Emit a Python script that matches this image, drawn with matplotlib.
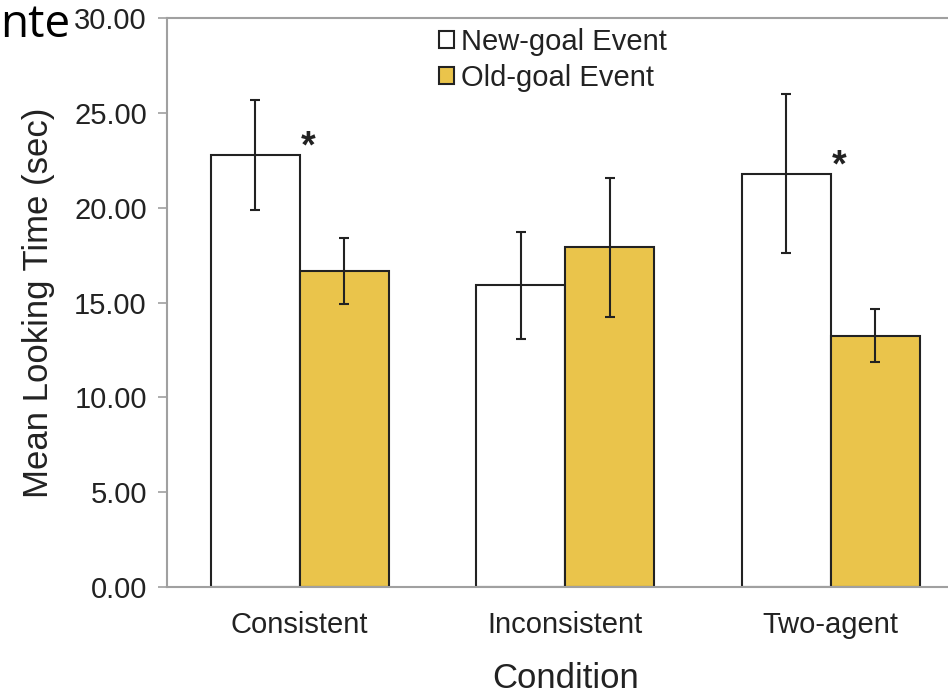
import numpy as np
import matplotlib.pyplot as plt

# Data.
conditions = ["Consistent", "Inconsistent", "Two-agent"]
newGoal = [22.8, 15.9, 21.8]
newGoalErr = [2.9, 2.8, 4.2]
oldGoal = [16.65, 17.9, 13.25]
oldGoalErr = [1.75, 3.65, 1.4]
starIdx = [0, 2]  # Conditions marked as significant.

yellow = "#EAC44B"
edge = "#222222"
spineGrey = "#A0A0A0"

plt.rcParams["font.family"] = ["Liberation Sans", "DejaVu Sans"]

fig = plt.figure(figsize=(9.48, 6.97), dpi=100)
# Axes run past the right edge of the picture, as in the reference crop.
ax = fig.add_axes([167 / 948, 1 - 587 / 697, 796.5 / 948, (587 - 18) / 697])

x = np.arange(len(conditions))
w = 0.335
barNew = ax.bar(x - w / 2, newGoal, w, color="white", edgecolor=edge, linewidth=1.5,
                label="New-goal Event", zorder=2)
barOld = ax.bar(x + w / 2, oldGoal, w, color=yellow, edgecolor=edge, linewidth=1.5,
                label="Old-goal Event", zorder=2)
ax.errorbar(x - w / 2, newGoal, yerr=newGoalErr, fmt="none", ecolor=edge,
            elinewidth=1.5, capsize=3.6, capthick=1.5, zorder=3)
ax.errorbar(x + w / 2, oldGoal, yerr=oldGoalErr, fmt="none", ecolor=edge,
            elinewidth=1.5, capsize=3.6, capthick=1.5, zorder=3)

# Significance stars.
for i in starIdx:
  ax.text(x[i] + 0.03, newGoal[i] - 0.15, "*", fontsize=27, fontweight="bold",
          ha="center", va="baseline", color=edge)

ax.set_xlim(-0.5, 2.5)
ax.set_ylim(0, 30)
ax.set_yticks(np.arange(0, 30.01, 5))
ax.set_yticklabels([f"{v:.2f}" for v in np.arange(0, 30.01, 5)])
ax.set_xticks(x)
ax.set_xticklabels(conditions)

for side in ["left", "top", "bottom", "right"]:
  ax.spines[side].set_color(spineGrey)
  ax.spines[side].set_linewidth(1.5)

ax.tick_params(axis="y", direction="out", length=6.5, width=1.2, color=spineGrey,
               labelsize=21, labelcolor="#222222", pad=8)
ax.tick_params(axis="x", length=0, labelsize=21, labelcolor="#222222", pad=17.5)
ax.set_xlabel("Condition", fontsize=25, color="#222222", labelpad=16)
ax.set_ylabel("Mean Looking Time (sec)", fontsize=25, color="#222222", labelpad=14)

leg = fig.legend(handles=[barNew, barOld], loc="upper left",
                 bbox_to_anchor=(439 / 948, 1 - 28 / 697), frameon=False,
                 fontsize=21, handlelength=0.5, handleheight=0.5,
                 handletextpad=0.25, labelspacing=0.27, borderaxespad=0,
                 borderpad=0)
for t in leg.get_texts():
  t.set_color("#222222")

# Fragment of slide text at the top left.
fig.text(0.5 / 948, 1 - 37 / 697, "nte", fontsize=33, ha="left", va="baseline",
         family=["Open Sans", "DejaVu Sans"], color="black")

fig.savefig("out.png", dpi=100)
